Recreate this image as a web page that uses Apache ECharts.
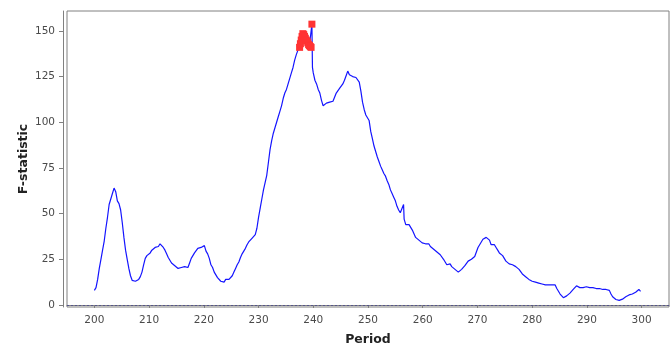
<!DOCTYPE html>
<html>
<head>
<meta charset="utf-8">
<script src="https://cdn.jsdelivr.net/npm/echarts@6/dist/echarts.min.js"></script>
<style>html,body{margin:0;padding:0;background:#fff}#c{width:672px;height:346px}</style>
</head>
<body>
<div id="c"></div>
<script>
var periods = [
200.0,200.3,200.6,200.9,201.2,201.5,201.8,202.1,202.4,202.7,203.0,203.3,203.6,203.9,204.2,204.5,204.8,205.1,205.4,205.7,
206.0,206.3,206.6,206.9,207.2,207.5,207.8,208.1,208.4,208.7,209.0,209.3,209.6,209.9,210.2,210.5,210.8,211.1,211.4,211.7,
212.0,212.3,212.6,212.9,213.2,213.5,213.8,214.1,214.4,214.7,215.0,215.3,215.6,215.9,216.2,216.5,216.8,217.1,217.4,217.7,
218.0,218.3,218.6,218.9,219.2,219.5,219.8,220.1,220.4,220.7,221.0,221.3,221.6,221.9,222.2,222.5,222.8,223.1,223.4,223.7,
224.0,224.3,224.6,224.9,225.2,225.5,225.8,226.1,226.4,226.7,227.0,227.3,227.6,227.9,228.2,228.5,228.8,229.1,229.4,229.7,
230.0,230.3,230.6,230.9,231.2,231.5,231.8,232.1,232.4,232.7,233.0,233.3,233.6,233.9,234.2,234.5,234.8,235.1,235.4,235.7,
236.0,236.3,236.6,236.9,237.2,237.5,237.65,237.8,237.95,238.1,238.25,238.4,238.55,238.7,238.85,239.0,239.15,239.3,239.45,239.6,239.75,239.85,
240.0,240.3,240.6,240.9,241.2,241.5,241.8,242.1,242.4,242.7,243.0,243.3,243.6,243.9,244.2,244.5,244.8,245.1,245.4,245.7,
246.0,246.3,246.6,246.9,247.2,247.5,247.8,248.1,248.4,248.7,249.0,249.3,249.6,249.9,250.2,250.5,250.8,251.1,251.4,251.7,
252.0,252.3,252.6,252.9,253.2,253.5,253.8,254.1,254.4,254.7,255.0,255.3,255.6,255.9,256.2,256.5,256.6,256.9,257.2,257.5,
257.8,258.1,258.4,258.7,259.0,259.3,259.6,259.9,260.2,260.5,260.8,261.1,261.4,261.7,262.0,262.3,262.6,262.9,263.2,263.5,
263.8,264.1,264.4,264.7,265.0,265.3,265.6,265.9,266.2,266.5,266.8,267.1,267.4,267.7,268.0,268.3,268.6,268.9,269.2,269.5,
269.8,270.1,270.4,270.7,271.0,271.3,271.6,271.9,272.2,272.5,272.8,273.1,273.4,273.7,274.0,274.3,274.6,274.9,275.2,275.5,
275.8,276.1,276.4,276.7,277.0,277.3,277.6,277.9,278.2,278.5,278.8,279.1,279.4,279.7,280.0,280.3,280.6,280.9,281.2,281.5,
281.8,282.1,282.4,282.7,283.0,283.3,283.6,283.9,284.2,284.5,284.8,285.1,285.4,285.7,286.0,286.3,286.6,286.9,287.2,287.5,
287.8,288.1,288.4,288.7,289.0,289.3,289.6,289.9,290.2,290.5,290.8,291.1,291.4,291.7,292.0,292.3,292.6,292.9,293.2,293.5,
293.8,294.1,294.4,294.7,295.0,295.3,295.6,295.9,296.2,296.5,296.8,297.1,297.4,297.7,298.0,298.3,298.6,298.9,299.2,299.5,
299.8
];
var fstat = [
8,9.5,14,20,25,30,35,42,48,55,58,61,64,62,57,55.5,52,45,37,30,
25,20,16,13.5,12.5,13,12.5,14,15.5,18,22,25.5,27,26.5,28.5,30,30.5,31.5,32.5,32,
33.5,32.5,31.5,30,28,26,24.5,23,22,21.5,20.5,20,19.5,20.5,20,21,20,20.5,23,25.5,
27,28.5,29.5,31,30.5,31.5,31,32.5,29.5,28,25.5,22,20.5,18,16.5,15,14,13,13.5,12.5,
14,13.5,14,14.5,16,18,20,22,23.5,26,28,29.5,31,33,34.5,35.5,36.5,37.5,38.5,42,
48,53,58,63,67,71,78,85,90,94,97,100,103,106,109,113,116,118,121,124,
127,130,134,137,139.5,141,143,145,147,148.5,148,147,146,145,144.5,143.5,142.5,142,141.5,141,153.7,130,
127,123,121,118,116,112,109,110,110.5,110,111,111,111.5,112,116,117,118.5,119,121,123,
125.5,128,126,127,125,126,124.5,124,122,117,111,107,104,102.5,101,95,91,87,84,81,
78.5,76,74,72,70.5,68,66,63,61,59,57,54,52,50.5,50,55,47,44,44.5,44,
44.5,41,39,37,36.5,35.5,34.5,34,34,33.5,33,33.5,32,31.5,30.5,30,29,28,27.5,26.5,
25,24,22,21.5,22.5,21,20,19.5,19,18,18.5,19.5,20.5,21.5,22,24,24.5,25,25.5,26.5,
29,31.5,33,34.5,36,36.5,37,38,35.5,33,33.5,33,31.5,30,28.5,27.5,27,26,24,23,
22.5,22.5,22,21.5,21,20,19.5,18.5,17,16,15.5,15,14,13.5,13,13,12.5,12,12,11.5,
11.5,11.5,11,11,11,11,11,11.5,11,9,7.5,6,5,4,4.5,5,5.5,6.5,7.5,8.5,
9,10.5,9.5,9.5,10,9.5,10,10,9.5,9.5,10,9.5,9.5,9,9.5,9,9.5,8.5,8,8.5,
9.5,8,6,4.5,3.5,3,2.5,2.5,2.8,3.2,4,4.5,5,5.5,6.5,6,6.5,7,8,8.5,
7.5
];
var xTicks = [200,210,220,230,240,250,260,270,280,290,300];
var yTicks = [0,25,50,75,100,125,150];
var threshold = 140;

var lineData = periods.map(function(p,i){return [p, fstat[i]];});
var hiData = lineData.filter(function(d){return d[1] >= threshold;});

var chart = echarts.init(document.getElementById('c'), null, {renderer:'canvas'});
var labelFont = {fontFamily:'DejaVu Sans', fontSize:10.5, color:'#4a4a4a'};
chart.setOption({
  animation:false,
  backgroundColor:'#fff',
  grid:{left:67, top:11, width:602, height:296, show:true, borderColor:'#808080', borderWidth:1,
        backgroundColor:'#fff', containLabel:false, outerBoundsMode:'none'},
  xAxis:{
    type:'value', min:195, max:305, offset:2,
    name:'Period', nameLocation:'middle', nameGap:24, nameMoveOverlap:false,
    nameTextStyle:{fontFamily:'DejaVu Sans', fontSize:12.5, fontWeight:'bold', color:'#222'},
    axisLine:{show:true, lineStyle:{color:'#808080', width:1}},
    axisTick:{show:true, length:3, customValues:xTicks, lineStyle:{color:'#808080'}},
    axisLabel:Object.assign({margin:6, customValues:xTicks}, labelFont),
    splitLine:{show:false}
  },
  yAxis:{
    type:'value', min:-1.1, max:160.9, offset:4,
    name:'F-statistic', nameLocation:'middle', nameGap:33, nameRotate:90, nameMoveOverlap:false,
    nameTextStyle:{fontFamily:'DejaVu Sans', fontSize:12.5, fontWeight:'bold', color:'#222'},
    axisLine:{show:true, lineStyle:{color:'#808080', width:1}},
    axisTick:{show:true, length:4, customValues:yTicks, lineStyle:{color:'#808080'}},
    axisLabel:Object.assign({margin:8, customValues:yTicks}, labelFont),
    splitLine:{show:false}
  },
  series:[
    {
      type:'line', data:lineData, showSymbol:false, symbol:'none',
      lineStyle:{color:'#1414ff', width:1.2},
      markLine:{silent:true, symbol:'none', label:{show:false},
        lineStyle:{color:'#55558a', type:[2,2], width:1},
        data:[{yAxis:0}]}
    },
    {
      type:'scatter', data:hiData, symbol:'rect', symbolSize:7,
      itemStyle:{color:'#ff3333', opacity:1}, z:3
    }
  ]
});
</script>
</body>
</html>
